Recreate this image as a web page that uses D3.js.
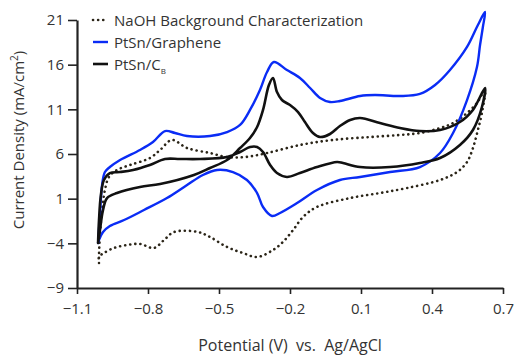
<!DOCTYPE html>
<html><head><meta charset="utf-8">
<script src="https://cdn.jsdelivr.net/npm/d3@7"></script>
<style>body{margin:0;background:#fff}svg{display:block}text{font-family:"Open Sans",sans-serif;fill:#333}</style>
</head><body>
<svg id="c" width="518" height="356"></svg>
<script>
const xTicks = [-1.1, -0.8, -0.5, -0.2, 0.1, 0.4, 0.7];
const yTicks = [-9, -4, 1, 6, 11, 16, 21];
const seriesNames = ["NaOH Background Characterization", "PtSn/Graphene", "PtSn/C"];

// NaOH background (forward then reverse), potential V and current mA/cm2
const naohV = [-1.007,-1.007,-1.003,-0.994,-0.982,-0.965,-0.931,-0.876,-0.792,-0.749,-0.699,-0.635,-0.538,-0.466,-0.390,-0.297,-0.158,-0.018,0.138,0.265,0.349,0.434,0.489,0.548,0.590,0.624,
  0.611,0.594,0.573,0.548,0.506,0.434,0.294,0.180,0.054,-0.086,-0.145,-0.187,-0.230,-0.272,-0.339,-0.399,-0.466,-0.538,-0.589,-0.690,-0.732,-0.775,-0.834,-0.889,-0.944,-0.986,-1.007,-1.007];
const naohI = [-6.20,-5.31,-3.07,-0.27,1.97,3.43,4.21,4.77,5.55,6.45,7.57,6.67,6.11,5.66,5.66,6.11,7.01,7.57,7.90,8.13,8.35,8.91,9.47,10.59,11.71,13.16,
  10.59,8.69,6.67,5.10,3.98,3.09,2.19,1.63,1.07,0.07,-1.05,-2.51,-3.85,-4.75,-5.53,-5.08,-4.41,-3.29,-2.73,-2.73,-3.63,-4.52,-4.07,-4.19,-4.52,-5.08,-5.53,-6.20];

// PtSn/Graphene
const grapheneV = [-1.011,-1.003,-0.994,-0.982,-0.961,-0.918,-0.834,-0.779,-0.728,-0.686,-0.635,-0.538,-0.466,-0.411,-0.369,-0.327,-0.297,-0.268,-0.213,-0.158,-0.115,-0.073,-0.031,0.011,0.096,0.159,0.265,0.349,0.413,0.476,0.548,0.594,0.624,
  0.615,0.603,0.590,0.548,0.489,0.434,0.349,0.223,0.096,0.011,-0.086,-0.170,-0.242,-0.276,-0.314,-0.339,-0.382,-0.441,-0.508,-0.568,-0.635,-0.720,-0.817,-0.901,-0.961,-0.990,-1.007,-1.011];
const grapheneI = [-3.96,-0.83,2.53,3.98,4.54,5.33,6.45,7.34,8.57,8.35,8.01,8.01,8.46,9.25,10.93,13.16,15.18,16.30,15.40,14.51,13.39,12.27,11.82,11.93,12.49,12.60,12.49,12.72,13.72,15.40,17.98,20.44,21.90,
  20.22,18.20,15.74,12.04,8.35,6.11,4.54,3.98,3.43,3.09,1.97,0.51,-0.60,-0.94,0.07,1.63,3.09,3.98,4.21,3.65,2.53,1.07,-0.27,-1.39,-2.06,-2.73,-3.63,-3.96];

// PtSn/C_B
const carbonV = [-1.011,-1.007,-0.999,-0.986,-0.961,-0.918,-0.863,-0.792,-0.728,-0.665,-0.580,-0.466,-0.411,-0.369,-0.339,-0.314,-0.284,-0.255,-0.213,-0.158,-0.086,-0.001,0.024,0.096,0.223,0.349,0.434,0.518,0.573,0.611,0.624,
  0.573,0.518,0.434,0.349,0.265,0.180,0.096,0.054,0.011,-0.031,-0.073,-0.103,-0.137,-0.166,-0.200,-0.234,-0.255,-0.272,-0.289,-0.314,-0.339,-0.369,-0.411,-0.466,-0.538,-0.606,-0.749,-0.834,-0.931,-0.973,-0.990,-1.003,-1.011];
const carbonI = [-3.96,-1.39,1.41,3.09,3.87,3.98,4.21,4.77,5.44,5.44,5.44,5.66,6.22,6.78,6.78,6.22,4.77,3.87,3.43,3.87,4.54,5.10,4.99,4.54,4.54,4.99,5.55,7.01,8.69,11.26,13.39,
  10.93,9.58,8.69,8.57,8.91,9.47,10.03,9.81,9.13,8.24,7.90,8.35,9.58,10.70,11.48,12.04,12.94,14.51,13.72,10.93,9.02,7.79,6.67,5.33,4.43,3.65,2.64,2.31,1.63,1.07,-0.27,-2.51,-3.96];

const svg = d3.select("#c");
const x = d3.scaleLinear().domain([-1.1, 0.7]).range([77, 503]);
const y = d3.scaleLinear().domain([-9, 21]).range([288, 20]);

const line = d3.line().x(d => x(d[0])).y(d => y(d[1])).curve(d3.curveCatmullRom.alpha(0.5));
const zip = (a, b) => a.map((v, i) => [v, b[i]]);

const styles = [
  {data: zip(naohV, naohI), stroke: "#2b2518", width: 2.6, dash: "0.1,5", cap: "round"},
  {data: zip(grapheneV, grapheneI), stroke: "#0a2cf5", width: 2.4, dash: null, cap: "round"},
  {data: zip(carbonV, carbonI), stroke: "#111", width: 2.6, dash: null, cap: "round"}
];

// axes
const yAxis = d3.axisLeft(y).tickValues(yTicks).tickSize(9).tickSizeOuter(0).tickPadding(4).tickFormat(d3.format("d"));
const gy = svg.append("g").attr("transform", "translate(77,0)").call(yAxis);
const xAxis = d3.axisBottom(x).tickValues(xTicks).tickSize(6).tickSizeOuter(0).tickPadding(9).tickFormat(d3.format(".1f"));
const gx = svg.append("g").attr("transform", "translate(0,288)").call(xAxis);
[gx, gy].forEach(g => {
  g.select(".domain").attr("stroke", "#222").attr("stroke-width", 2.2);
  g.selectAll(".tick line").attr("stroke", "#222").attr("stroke-width", 1.6);
  g.selectAll(".tick text").attr("font-size", 15).attr("fill", "#333").style("font-family", "'Open Sans',sans-serif");
});

// lines
styles.forEach(s => {
  svg.append("path").datum(s.data).attr("d", line).attr("fill", "none")
    .attr("stroke", s.stroke).attr("stroke-width", s.width)
    .attr("stroke-dasharray", s.dash).attr("stroke-linecap", s.cap).attr("stroke-linejoin", "round");
});

// axis titles
svg.append("text").attr("transform", "translate(24,140) rotate(-90)").attr("text-anchor", "middle")
  .attr("font-size", 15).html('Current Density (mA/cm<tspan dy="-6" font-size="10">2</tspan><tspan dy="6">)</tspan>');
svg.append("text").attr("x", 290).attr("y", 351).attr("text-anchor", "middle").attr("font-size", 16)
  .style("white-space", "pre").text("Potential (V)  vs.  Ag/AgCl");

// legend
const legY = [20, 42, 64];
styles.forEach((s, i) => {
  svg.append("line").attr("x1", 93).attr("x2", 108).attr("y1", legY[i]).attr("y2", legY[i])
    .attr("stroke", s.stroke).attr("stroke-width", s.width).attr("stroke-dasharray", s.dash)
    .attr("stroke-linecap", s.dash ? "round" : "butt");
  const t = svg.append("text").attr("x", 114).attr("y", legY[i] + 5.5).attr("font-size", 15).text(seriesNames[i]);
  if (i === 2) t.append("tspan").attr("dy", 4).attr("font-size", 8).text("B");
});
</script>
</body></html>
